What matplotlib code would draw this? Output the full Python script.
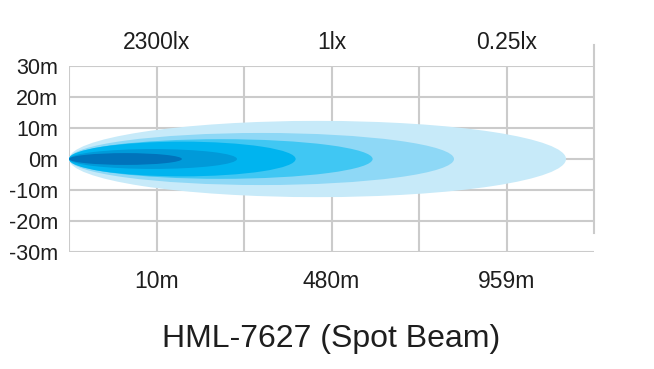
import matplotlib
matplotlib.use("Agg")
import matplotlib.pyplot as plt
from matplotlib.patches import Ellipse

# beam contours, outermost first (reach in grid columns, half width in m)
beam_reach = [5.68, 4.40, 3.47, 2.59, 1.92, 1.29]
beam_halfwidth = [12.3, 8.4, 6.4, 5.6, 3.2, 1.9]
beam_colors = ['#c7eaf9', '#8ed8f6', '#40c7f3', '#00b4ef', '#009ad9', '#0073bb']

y_ticks = [30, 20, 10, 0, -10, -20, -30]
y_labels = ['30m', '20m', '10m', '0m', '-10m', '-20m', '-30m']
x_label_pos = [1, 3, 5]
dist_labels = ['10m', '480m', '959m']
lux_labels = ['2300lx', '1lx', '0.25lx']
title = 'HML-7627 (Spot Beam)'

plt.rcParams['font.family'] = ['Liberation Sans', 'DejaVu Sans']

fig = plt.figure(figsize=(6.54, 3.69), dpi=100)
W, H = 654, 369
ax = fig.add_axes([69 / W, 1 - 252 / H, (594 - 69) / W, (252 - 66) / H])
ax.set_xlim(0, 6)
ax.set_ylim(-30, 30)
for s in ax.spines.values():
    s.set_visible(False)

grid_c = '#cbcbcb'
for y in y_ticks:
    ax.axhline(y, color=grid_c, lw=1.5, zorder=0)
for x in range(6):
    ax.axvline(x, color=grid_c, lw=1.5, zorder=0)
# right edge line sticks out at the top and stops short at the bottom
ax.plot([6, 6], [36.8, -24], color=grid_c, lw=1.5, clip_on=False, zorder=0)

for reach, hw, c in zip(beam_reach, beam_halfwidth, beam_colors):
    ax.add_patch(Ellipse((reach / 2, 0), reach, 2 * hw, facecolor=c,
                         edgecolor='none', zorder=2))

ax.set_xticks([])
ax.set_yticks(y_ticks)
ax.set_yticklabels(y_labels, fontsize=15.5, color='#1e1e1e')
ax.tick_params(axis='y', length=0, pad=8)

for x, lab in zip(x_label_pos, lux_labels):
    ax.text(x, 37.7, lab, ha='center', va='center', fontsize=16.5,
            color='#1e1e1e', clip_on=False)
for x, lab in zip(x_label_pos, dist_labels):
    ax.text(x, -39.4, lab, ha='center', va='center', fontsize=16.5,
            color='#1e1e1e', clip_on=False)
ax.text(3, -58.2, title, ha='center', va='center', fontsize=23,
        color='#1e1e1e', clip_on=False)

fig.savefig('out.png', dpi=100)
